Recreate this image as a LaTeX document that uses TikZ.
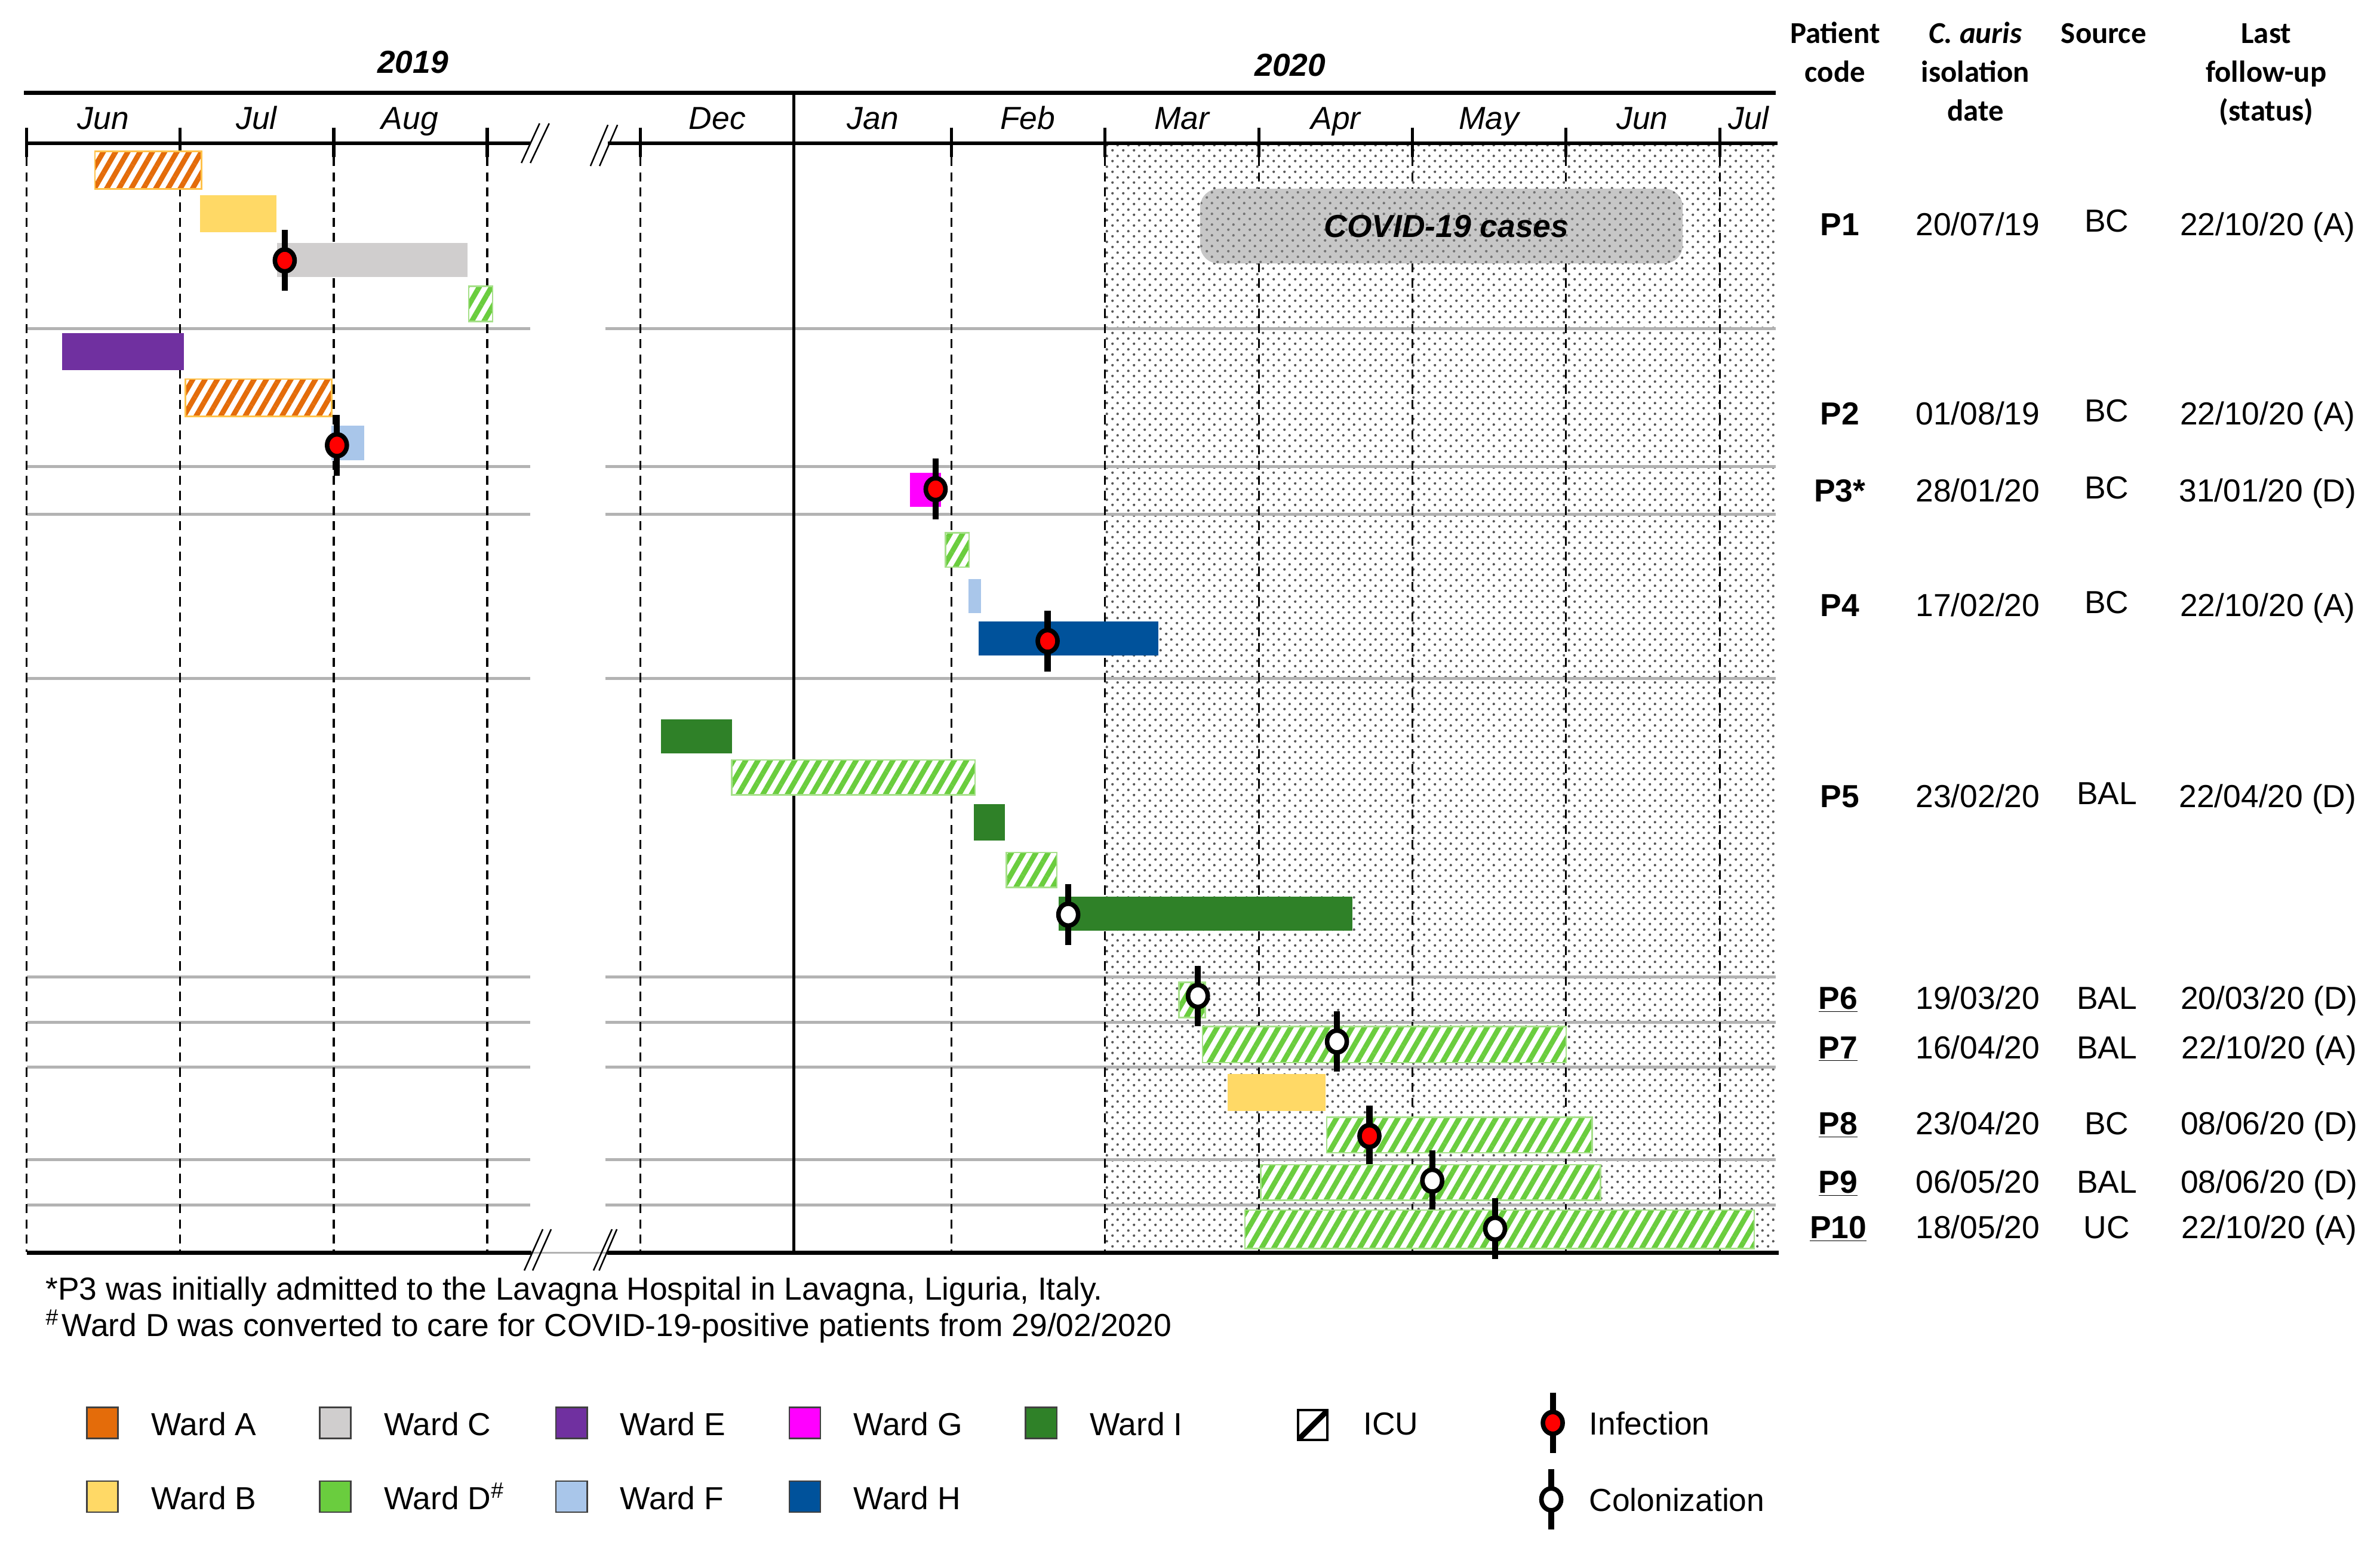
\documentclass[tikz,border=0pt]{standalone}
\usepackage{fontspec}
\setmainfont{Liberation Sans}
\newfontfamily\calib{Carlito}
\usetikzlibrary{patterns.meta}
\definecolor{wardA}{HTML}{E46C0A}
\definecolor{borderA}{HTML}{FFC24A}
\definecolor{wardB}{HTML}{FFD966}
\definecolor{wardC}{HTML}{D0CECE}
\definecolor{wardD}{HTML}{6ACD3E}
\definecolor{borderD}{HTML}{A6E08A}
\definecolor{wardE}{HTML}{7030A0}
\definecolor{wardF}{HTML}{A9C6EA}
\definecolor{wardG}{HTML}{FF00FF}
\definecolor{wardH}{HTML}{00529B}
\definecolor{wardI}{HTML}{2F8128}
\definecolor{sepgray}{HTML}{B3B3B3}
\tikzdeclarepattern{
  name=covdots, type=uncolored,
  bottom left={(0pt,0pt)}, top right={(6.9pt,6.9pt)}, tile size={(6.9pt,6.9pt)},
  code={\fill (1.7pt,1.7pt) circle [radius=0.85pt]; \fill (5.15pt,5.15pt) circle [radius=0.85pt];}
}
\begin{document}
\begin{tikzpicture}[x=1pt,y=-1pt,
  rowsep/.style={draw=sepgray, line width=2},
  mgrid/.style={line width=1.2, dash pattern=on 6pt off 4pt},
  axisl/.style={line width=2.6},
  brk/.style={line width=1},
  icu/.style={preaction={fill=white}, pattern={Lines[angle=60,distance=7pt,line width=3.4pt]}, pattern color=#1},
  icuA/.style={icu=wardA, draw=borderA, line width=1},
  icuD/.style={icu=wardD, draw=borderD, line width=1},
  txt/.style={font=\fontsize{21}{25}\selectfont, inner sep=0},
  hdr/.style={font=\calib\bfseries\fontsize{20}{24}\selectfont, inner sep=0},
  legbox/.style={draw=black!75, line width=1},
  infmark/.pic={\draw[line width=4] (0,-20)--(0,20); \draw[line width=3,fill=red] (0,0) ellipse [x radius=6.5, y radius=7.2];},
  colmark/.pic={\draw[line width=4] (0,-20)--(0,20); \draw[line width=3,fill=white] (0,0) ellipse [x radius=6.5, y radius=7.2];}
]
\useasboundingbox (0,0) rectangle (1568,1016);

% COVID period shading
\path[pattern=covdots, pattern color=black!65] (727.8,95) rectangle (1170.5,825);

% row separators
\foreach \yy in {216.4,307.4,338.8,447,643.6,673.5,703.2,764,793.9}{
  \draw[rowsep] (17.6,\yy) -- (349.5,\yy);
  \draw[rowsep] (398.7,\yy) -- (1170,\yy);
}

% month grid
\foreach \xx in {17.6,118.7,219.9,321,422,626.7,727.8,829.3,930.4,1031.5,1133}{
  \draw[mgrid] (\xx,103.5) -- (\xx,825);
  \draw[line width=2] (\xx,84) -- (\xx,103.5);
}
\draw[line width=1.8] (523,61.2) -- (523,825);

% axes
\draw[axisl] (15.8,61.2) -- (1170,61.2);
\draw[axisl] (17.6,94.4) -- (349.5,94.4);
\draw[axisl] (400.4,94.4) -- (1171,94.4);
\draw[axisl] (17.6,825.5) -- (350,825.5);
\draw[axisl] (400,825.5) -- (1172,825.5);
\draw[line width=1, black!30] (350,825.5) -- (400,825.5);
% breaks
\draw[brk] (343.5,107.4) -- (355.5,81.3);
\draw[brk] (349.4,107.4) -- (361.8,81.3);
\draw[brk] (389,109.4) -- (400.5,82.3);
\draw[brk] (395,109.4) -- (406.8,82.3);
\draw[brk] (345.4,837.2) -- (357.6,810);
\draw[brk] (350.9,837.2) -- (363.1,810);
\draw[brk] (391,837.2) -- (403.2,810);
\draw[brk] (394.7,837.2) -- (406.4,810);

% COVID box
\fill[black!22, rounded corners=12] (790.7,124.4) rectangle (1108.6,173.6);
\path[pattern=covdots, pattern color=black!55, rounded corners=12] (790.7,124.4) rectangle (1108.6,173.6);
\node[txt, anchor=base, font=\fontsize{21}{25}\selectfont\bfseries\itshape] (covid) at (953,156.2) {COVID-19 cases};

% years and months
\node[txt, anchor=base, font=\fontsize{21}{25}\selectfont\bfseries\itshape] (y19) at (272,48) {2019};
\node[txt, anchor=base, font=\fontsize{21}{25}\selectfont\bfseries\itshape] (y20) at (850,50) {2020};
\foreach \xx/\mm in {68/Jun,169/Jul,270/Aug,472.6/Dec,575/Jan,677/Feb,778.5/Mar,880/Apr,981/May,1082/Jun,1152/Jul}{
  \node[txt, anchor=base, font=\fontsize{21}{25}\selectfont\itshape] at (\xx,85.3) {\mm};
}

% P1
\path[icuA] (62.5,99.8) rectangle (132.8,124.4);
\fill[wardB] (131.7,128.6) rectangle (182.3,153);
\fill[wardC] (182.6,160.2) rectangle (308,182.7);
\path[icuD] (308.8,188.7) rectangle (324.6,211.8);
\pic at (187.6,171.6) {infmark};
% P2
\fill[wardE] (41.1,219.4) rectangle (121.2,243.9);
\path[icuA] (122.2,249.8) rectangle (218.5,274.4);
\fill[wardF] (218.5,280.4) rectangle (240,303.1);
\pic at (222,293.4) {infmark};
% P3
\fill[wardG] (599.5,311.5) rectangle (620,334);
\pic at (616.4,322.3) {infmark};
% P4
\path[icuD] (623,351) rectangle (638.5,373.7);
\fill[wardF] (638,381.6) rectangle (646.3,404);
\fill[wardH] (644.8,409.6) rectangle (763.2,432);
\pic at (690.2,422.4) {infmark};
% P5
\fill[wardI] (435.5,474) rectangle (482.3,496.5);
\path[icuD] (482,500.8) rectangle (642.4,523.8);
\fill[wardI] (641.6,530) rectangle (662,554);
\path[icuD] (663,561.8) rectangle (696.3,584.8);
\fill[wardI] (697.5,591) rectangle (891,613.4);
\pic at (703.8,602.7) {colmark};
% P6
\path[icuD] (776.8,647.2) rectangle (794,670.5);
\pic at (789.2,656.3) {colmark};
% P7
\path[icuD] (792.2,676.5) rectangle (1031.9,700.2);
\pic at (880.8,686.3) {colmark};
% P8
\fill[wardB] (808.8,707.7) rectangle (873.3,732);
\path[icuD] (874,736.2) rectangle (1049,759.6);
\pic at (902.2,748.6) {infmark};
% P9
\path[icuD] (830.5,767.5) rectangle (1054.5,790.8);
\pic at (943.6,778) {colmark};
% P10
\path[icuD] (820.2,797.3) rectangle (1155.7,822.8);
\pic at (985,809.6) {colmark};

% table header
\node[hdr, anchor=base] (h1a) at (1209,28.5) {Patient};
\node[hdr, anchor=base] (h1b) at (1209,54.2) {code};
\node[hdr, anchor=base] (h2a) at (1301.4,28.5) {\itshape C. auris};
\node[hdr, anchor=base] (h2b) at (1301.4,54.2) {isolation};
\node[hdr, anchor=base] (h2c) at (1301.4,79.5) {date};
\node[hdr, anchor=base] (h3a) at (1386,28.5) {Source};
\node[hdr, anchor=base] (h4a) at (1493,28.5) {Last};
\node[hdr, anchor=base] (h4b) at (1493,54.2) {follow-up};
\node[hdr, anchor=base] (h4c) at (1493,79.5) {(status)};

% table rows
\foreach \yy/\pc/\dd/\ss/\ll in {
  155/P1/20\slash 07\slash 19/BC/22\slash 10\slash 20 (A),
  280/P2/01\slash 08\slash 19/BC/22\slash 10\slash 20 (A),
  330.7/P3*/28\slash 01\slash 20/BC/31\slash 01\slash 20 (D),
  406/P4/17\slash 02\slash 20/BC/22\slash 10\slash 20 (A),
  532/P5/23\slash 02\slash 20/BAL/22\slash 04\slash 20 (D)}{
  \node[txt, anchor=base] at (1212,\yy) {\bfseries \pc};
  \node[txt, anchor=base] at (1303,\yy) {\dd};
  \node[txt, anchor=base] at (1388,\yy-2) {\ss};
  \node[txt, anchor=base] at (1494,\yy) {\ll};
}
\foreach \yy/\pc/\dd/\ss/\ll in {
  665/P6/19\slash 03\slash 20/BAL/20\slash 03\slash 20 (D),
  697.5/P7/16\slash 04\slash 20/BAL/22\slash 10\slash 20 (A),
  747.5/P8/23\slash 04\slash 20/BC/08\slash 06\slash 20 (D),
  786/P9/06\slash 05\slash 20/BAL/08\slash 06\slash 20 (D),
  816/P10/18\slash 05\slash 20/UC/22\slash 10\slash 20 (A)}{
  \node[txt, anchor=base] at (1211,\yy) {\bfseries\underline{\pc}};
  \node[txt, anchor=base] at (1303,\yy) {\dd};
  \node[txt, anchor=base] at (1388,\yy) {\ss};
  \node[txt, anchor=base] at (1495,\yy) {\ll};
}

% footnotes
\node[txt, anchor=base west] (fn1) at (29.9,856.5) {*P3 was initially admitted to the Lavagna Hospital in Lavagna, Liguria, Italy.};
\node[txt, anchor=base west] (fn2) at (29.9,880.5) {\textsuperscript{\#}\hspace{2pt}Ward D was converted to care for COVID-19-positive patients from 29/02/2020};

% legend
\foreach \xx/\yy/\cc/\ll in {57.2/927.3/wardA/Ward A, 210.7/927.3/wardC/Ward C, 366.3/927.3/wardE/Ward E, 520/927.3/wardG/Ward G, 675.7/927.3/wardI/Ward I,
  57.2/976/wardB/Ward B, 366.3/976/wardF/Ward F, 520/976/wardH/Ward H}{
  \draw[legbox, fill=\cc] (\xx,\yy) rectangle ++(20.5,20.5);
  \node[txt, anchor=base west] at (\xx+42.2,\yy+18.5) {\ll};
}
\draw[legbox, fill=wardD] (210.7,976) rectangle ++(20.5,20.5);
\node[txt, anchor=base west] (legD) at (252.9,994.8) {Ward D\textsuperscript{\#}};
% ICU icon
\begin{scope}
  \clip (855.3,929) rectangle (874.5,948.8);
  \fill[white] (855.3,929) rectangle (874.5,948.8);
  \draw[line width=3.5] (852,952) -- (878,926);
  \draw[line width=3.5] (840,942) -- (860,922);
  \draw[line width=3.5] (870,955) -- (890,935);
\end{scope}
\draw[line width=1.6] (855.3,929) rectangle (874.5,948.8);
\node[txt, anchor=base west] (legicu) at (898,945.6) {ICU};
\pic at (1023,937.6) {infmark};
\node[txt, anchor=base west] (leginf) at (1046.8,945.5) {Infection};
\pic at (1022,988) {colmark};
\node[txt, anchor=base west] (legcol) at (1046.8,996) {Colonization};
\end{tikzpicture}
\end{document}
